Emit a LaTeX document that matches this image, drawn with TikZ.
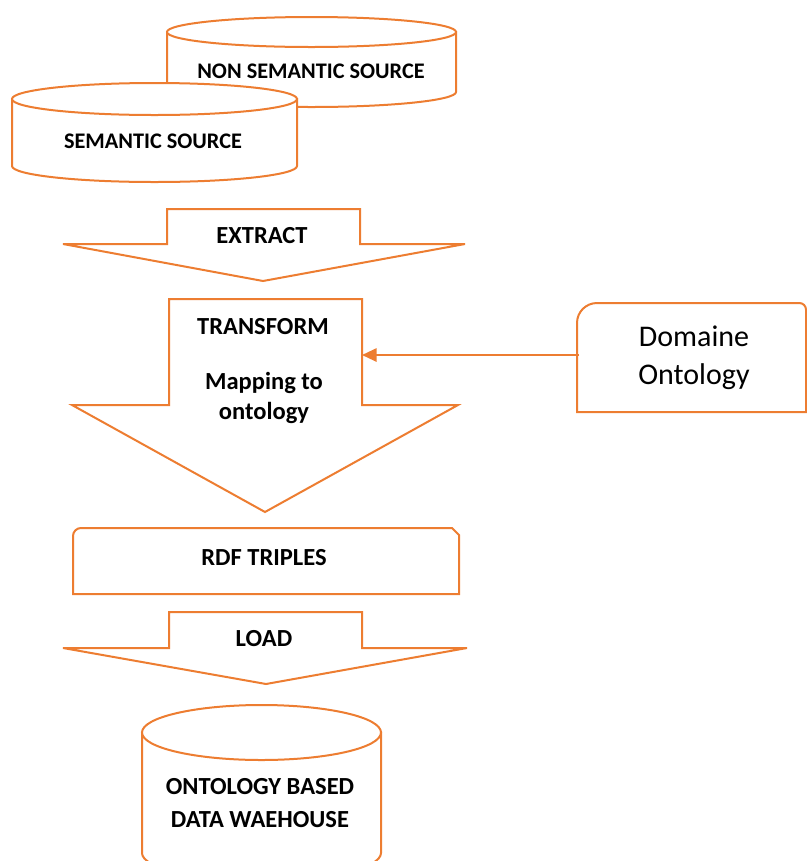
\documentclass[tikz,border=0pt]{standalone}
\usepackage{fontspec}
\setmainfont{Carlito}
\usetikzlibrary{arrows.meta}
\definecolor{orng}{RGB}{237,125,49}
\tikzset{
  shp/.style={draw=orng, line width=1.5pt, fill=white, line join=miter},
  lbl/.style={font=\bfseries\fontsize{18.4}{22.5}\selectfont, text=black, inner sep=0pt, align=center},
  slbl/.style={font=\bfseries\fontsize{16.7}{19}\selectfont, text=black, inner sep=0pt, align=center},
  rlbl/.style={font=\fontsize{22.5}{28.5}\selectfont, text=black, inner sep=0pt, align=center},
}
\begin{document}
\begin{tikzpicture}[x=0.75pt, y=-0.75pt]
\useasboundingbox (0,0) rectangle (807,861);
\begin{scope}
\clip (0,0) rectangle (807,861);
% non semantic cylinder
\path[shp] (167,32) -- (167,92) arc[start angle=180, end angle=0, x radius=144.5, y radius=15] -- (456,32) -- cycle;
\draw[shp] (311.5,32) ellipse[x radius=144.5, y radius=15];
\node[slbl] (nss) at (311,71) {NON SEMANTIC SOURCE};
% semantic cylinder
\path[shp] (12,99) -- (12,166) arc[start angle=180, end angle=0, x radius=142.5, y radius=16] -- (297,99) -- cycle;
\draw[shp] (154.5,99) ellipse[x radius=142.5, y radius=16];
\node[slbl] (ss) at (153,141) {SEMANTIC SOURCE};
% extract arrow
\draw[shp] (167,209) -- (360,209) -- (360,244) -- (465,244) -- (263,281) -- (63,244) -- (167,244) -- cycle;
\node[lbl] (ext) at (262,236) {EXTRACT};
% transform arrow
\draw[shp] (169,299) -- (362,299) -- (362,405) -- (458,405) -- (265,512) -- (72,405) -- (169,405) -- cycle;
\node[lbl] (tra) at (263,327) {TRANSFORM};
\node[lbl] (map) at (264,398) {Mapping to\\ontology};
\coordinate (tin) at (362,355);
% domaine ontology box
\draw[shp] (577,412) {[rounded corners=15pt] -- (577,303) -- (700,303)} {[rounded corners=5pt] -- (806,303) -- (806,360)} -- (806,412) -- cycle;
\node[rlbl, minimum width=229*0.75pt, minimum height=109*0.75pt] (dom) at (694,358) {Domaine\\Ontology};
\draw[draw=orng, line width=1.5pt, -{Triangle[length=11pt, width=10pt]}] (dom.west |- tin) -- (tin);
% rdf triples
\draw[shp] (73,594) {[rounded corners=6pt] -- (73,528) -- (300,528)} -- (452,528) -- (459,535) -- (459,594) -- cycle;
\node[lbl] (rdf) at (264,558) {RDF TRIPLES};
% load arrow
\draw[shp] (169,612) -- (362,612) -- (362,648) -- (467,648) -- (266,684) -- (63,648) -- (169,648) -- cycle;
\node[lbl] (load) at (264,639) {LOAD};
% warehouse cylinder
\path[shp] (142,732.5) -- (142,853) arc[start angle=180, end angle=0, x radius=119.5, y radius=27.5] -- (381,732.5) -- cycle;
\draw[shp] (261.5,732.5) ellipse[x radius=119.5, y radius=27.5];
\node[font=\bfseries\fontsize{18.4}{24.75}\selectfont, inner sep=0pt, align=center] (wh) at (260,803.5) {ONTOLOGY BASED\\DATA WAEHOUSE};
\end{scope}
\end{tikzpicture}
\end{document}
